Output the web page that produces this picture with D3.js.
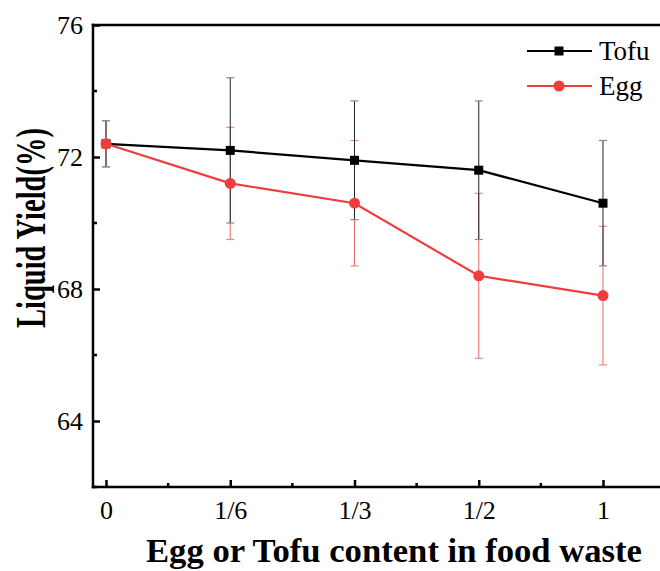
<!DOCTYPE html>
<html>
<head>
<meta charset="utf-8">
<script src="https://cdn.jsdelivr.net/npm/d3@7"></script>
<style>
  body { margin: 0; background: #fff; }
  text { font-family: "Liberation Serif", "Times New Roman", serif; }
</style>
</head>
<body>
<svg id="chart" width="660" height="571"></svg>
<script>
// data
const categories = ["0", "1/6", "1/3", "1/2", "1"];
const tofuValues = [72.4, 72.2, 71.9, 71.6, 70.6];
const tofuErrors = [0.7, 2.2, 1.8, 2.1, 1.9];
const eggValues = [72.4, 71.2, 70.6, 68.4, 67.8];
const eggErrors = [0.7, 1.7, 1.9, 2.5, 2.1];
const yTicks = [64, 68, 72, 76];
const yMinorTicks = [62, 66, 70, 74];

const svg = d3.select("#chart");
const plotLeft = 93, plotRight = 660, plotTop = 25, plotBottom = 487;
const red = "#f03c3c";

const x = d3.scalePoint().domain(categories).range([106, 603]);
const y = d3.scaleLinear().domain([62, 76]).range([plotBottom, plotTop]);

const series = [
  { name: "Tofu", values: tofuValues, errors: tofuErrors, color: "#000", bar: "#222", cap: "#888", shape: "square" },
  { name: "Egg", values: eggValues, errors: eggErrors, color: red, bar: "#e86a6a", cap: "#e88", shape: "circle" }
];

// error bars first (behind the lines)
series.slice().reverse().forEach(s => {
  const g = svg.append("g");
  const d = categories.map((c, i) => ({ c, v: s.values[i], e: s.errors[i] }));
  g.selectAll(".eb").data(d).enter().append("line")
    .attr("x1", p => x(p.c)).attr("x2", p => x(p.c))
    .attr("y1", p => y(p.v + p.e)).attr("y2", p => y(p.v - p.e))
    .style("stroke", s.bar).style("stroke-width", 1);
  [1, -1].forEach(sign => {
    g.selectAll(".cap" + (sign > 0 ? "up" : "dn")).data(d).enter().append("line")
      .attr("x1", p => x(p.c) - 4).attr("x2", p => x(p.c) + 4)
      .attr("y1", p => y(p.v + sign * p.e)).attr("y2", p => y(p.v + sign * p.e))
      .style("stroke", s.cap).style("stroke-width", 1.2);
  });
});

// lines + markers
const line = d3.line().x(p => x(p.c)).y(p => y(p.v));
series.forEach(s => {
  const d = categories.map((c, i) => ({ c, v: s.values[i] }));
  svg.append("path").datum(d).attr("d", line)
    .style("fill", "none").style("stroke", s.color).style("stroke-width", 2.2);
  if (s.shape === "square") {
    svg.append("g").selectAll("rect").data(d).enter().append("rect")
      .attr("x", p => x(p.c) - 4.5).attr("y", p => y(p.v) - 4.5)
      .attr("width", 9).attr("height", 9).style("fill", s.color);
  } else {
    svg.append("g").selectAll("circle").data(d).enter().append("circle")
      .attr("cx", p => x(p.c)).attr("cy", p => y(p.v)).attr("r", 5.5)
      .style("fill", s.color);
  }
});

// axes
const yAxis = svg.append("g").attr("transform", `translate(${plotLeft},0)`)
  .call(d3.axisLeft(y).tickValues(yTicks).tickSize(-7).tickPadding(10).tickFormat(d3.format("d")));
yAxis.select(".domain").remove();
yAxis.selectAll(".tick line").style("stroke-width", 2.5);
yAxis.selectAll(".tick text").style("font-size", "26px").style("fill", "#000");
svg.append("g").selectAll("line").data(yMinorTicks).enter().append("line")
  .attr("x1", plotLeft).attr("x2", plotLeft + 4).attr("y1", d => y(d)).attr("y2", d => y(d))
  .style("stroke", "#000").style("stroke-width", 2.5);

const xAxis = svg.append("g").attr("transform", `translate(0,${plotBottom})`)
  .call(d3.axisBottom(x).tickSize(-7).tickPadding(14));
xAxis.select(".domain").remove();
xAxis.selectAll(".tick line").style("stroke-width", 2.5);
xAxis.selectAll(".tick text").style("font-size", "26px").style("fill", "#000");
const mids = d3.pairs(categories).map(([a, b]) => (x(a) + x(b)) / 2);
mids.push(x(categories[4]) + x.step() / 2);
svg.append("g").selectAll("line").data(mids).enter().append("line")
  .attr("x1", d => d).attr("x2", d => d).attr("y1", plotBottom).attr("y2", plotBottom - 4)
  .style("stroke", "#000").style("stroke-width", 2.5);

// frame lines
svg.append("line").attr("x1", plotLeft).attr("x2", plotLeft).attr("y1", plotTop - 1.25).attr("y2", plotBottom + 1.25)
  .style("stroke", "#000").style("stroke-width", 2.5);
svg.append("line").attr("x1", plotLeft - 1.25).attr("x2", plotRight).attr("y1", plotBottom).attr("y2", plotBottom)
  .style("stroke", "#000").style("stroke-width", 2.5);
svg.append("line").attr("x1", plotLeft - 1.25).attr("x2", plotRight).attr("y1", plotTop).attr("y2", plotTop)
  .style("stroke", "#000").style("stroke-width", 2.5);

// axis titles
svg.append("text").attr("x", 394).attr("y", 562).attr("text-anchor", "middle")
  .attr("textLength", 496).attr("lengthAdjust", "spacingAndGlyphs")
  .style("font-size", "34.5px").style("font-weight", "bold").text("Egg or Tofu content in food waste");
// the y title is drawn condensed along its length, as in the figure
svg.append("text").attr("transform", "translate(45,228) rotate(-90)").attr("text-anchor", "middle")
  .attr("textLength", 200).attr("lengthAdjust", "spacingAndGlyphs")
  .style("font-size", "42px").style("font-weight", "bold").text("Liquid Yield(%)");

// legend
const legend = svg.append("g");
series.forEach((s, i) => {
  const ly = 51 + i * 35;
  legend.append("line").attr("x1", 527).attr("x2", 592).attr("y1", ly).attr("y2", ly)
    .style("stroke", s.color).style("stroke-width", 2.2);
  if (s.shape === "square") {
    legend.append("rect").attr("x", 559 - 4.5).attr("y", ly - 4.5).attr("width", 9).attr("height", 9).style("fill", s.color);
  } else {
    legend.append("circle").attr("cx", 559).attr("cy", ly).attr("r", 5.5).style("fill", s.color);
  }
  legend.append("text").attr("x", 599).attr("y", ly + 9).style("font-size", "27px").text(s.name);
});
</script>
</body>
</html>
